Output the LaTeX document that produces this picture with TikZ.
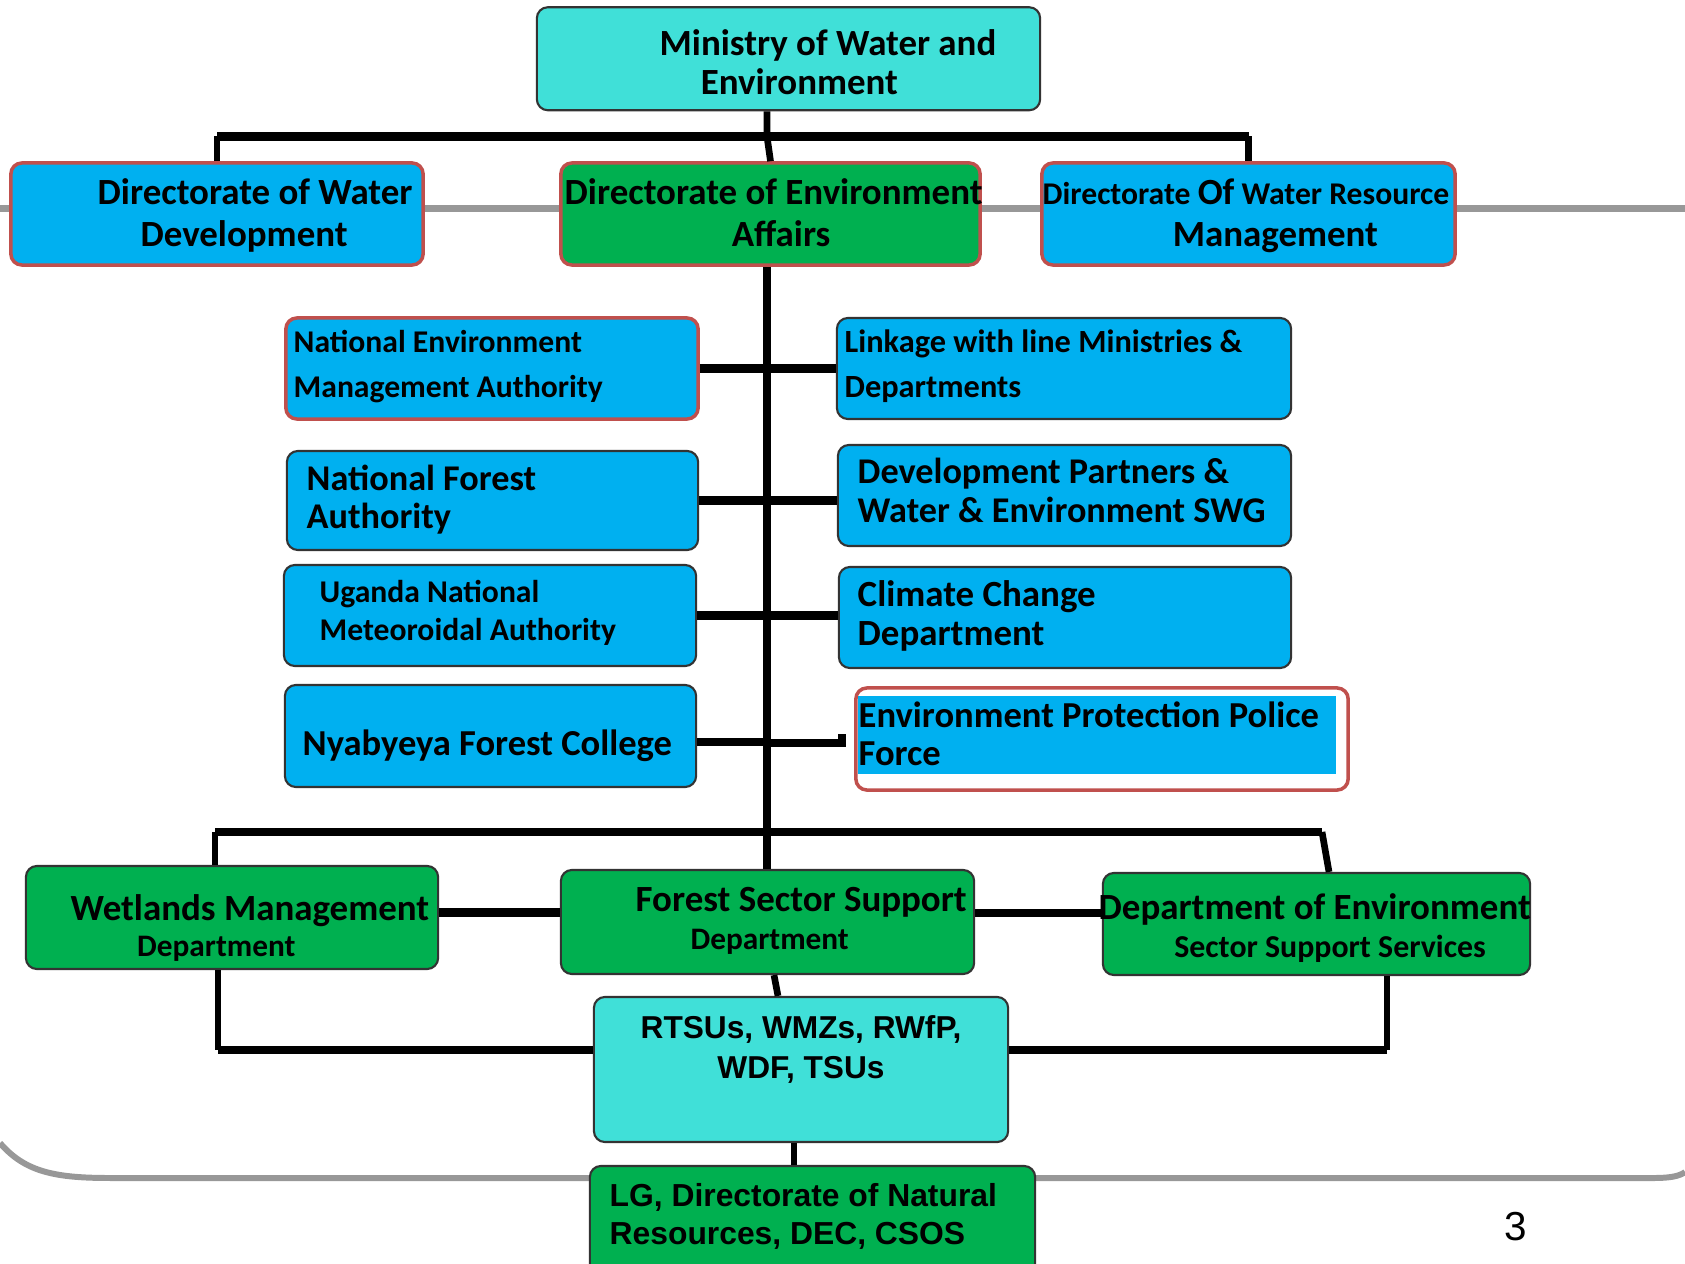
\documentclass[tikz,border=0pt]{standalone}
\usepackage{fontspec}
\setmainfont{Carlito}
\newfontfamily\arialfont{Liberation Sans}
\definecolor{aqua}{HTML}{40E0D8}
\definecolor{skyblue}{HTML}{00B0F0}
\definecolor{leafgreen}{HTML}{00B050}
\definecolor{redline}{HTML}{C0504D}
\definecolor{framegray}{HTML}{989898}
\tikzset{
  box/.style={draw=black!80, line width=0.6pt, rounded corners=1.1mm, inner sep=0pt},
  bluebox/.style={box, fill=skyblue},
  greenbox/.style={box, fill=leafgreen},
  aquabox/.style={box, fill=aqua},
  redrim/.style={draw=redline, line width=1pt},
  txt/.style={inner sep=0pt, align=left, anchor=base west},
  link/.style={line width=2.4pt},
  stem/.style={line width=1.9pt},
  slideline/.style={draw=framegray, line width=2.2pt},
}
\begin{document}
\begin{tikzpicture}[x=0.01cm, y=-0.01cm]
			\useasboundingbox (0,0) rectangle (1685,1264);
			% slide frame lines
			\draw[slideline] (0,208.5) -- (1685,208.5);
			\draw[slideline, line width=1.7pt] (0,1143) .. controls (25,1172) and (55,1178) .. (110,1178) -- (1655,1178) .. controls (1670,1178) and (1680,1176) .. (1685,1172);
			% boxes
			\node[aquabox, minimum width=5.03cm, minimum height=1.03cm] (min) at (788.5,58.75) {};
			\node[bluebox, redrim, minimum width=4.12cm, minimum height=1.02cm] (dwd) at (217,214) {};
			\node[greenbox, redrim, minimum width=4.19cm, minimum height=1.02cm] (dea) at (770.5,214) {};
			\node[bluebox, redrim, minimum width=4.13cm, minimum height=1.02cm] (dwrm) at (1248.5,214) {};
			\node[bluebox, redrim, minimum width=4.12cm, minimum height=1.01cm] (nema) at (492,368.5) {};
			\node[bluebox, minimum width=4.54cm, minimum height=1.01cm] (lmd) at (1064,368.5) {};
			\node[bluebox, minimum width=4.11cm, minimum height=0.99cm] (nfa) at (492.5,500.5) {};
			\node[bluebox, minimum width=4.53cm, minimum height=1.01cm] (dpw) at (1064.5,495.5) {};
			\node[bluebox, minimum width=4.12cm, minimum height=1.01cm] (unma) at (490,615.5) {};
			\node[bluebox, minimum width=4.52cm, minimum height=1.01cm] (ccd) at (1065,617.5) {};
			\node[bluebox, minimum width=4.11cm, minimum height=1.02cm] (nfc) at (490.5,736) {};
			\node[box, redrim, fill=white, minimum width=4.92cm, minimum height=1.02cm] (eppf) at (1102,739) {};
			\fill[skyblue] (858,696) rectangle (1336,774);
			\node[greenbox, minimum width=4.12cm, minimum height=1.03cm] (wet) at (232,917.5) {};
			\node[greenbox, minimum width=4.13cm, minimum height=1.04cm] (fss) at (767.5,922) {};
			\node[greenbox, minimum width=4.27cm, minimum height=1.02cm] (dess) at (1316.5,924) {};
			\node[aquabox, minimum width=4.14cm, minimum height=1.45cm] (rtsu) at (801,1069.5) {};
			\node[greenbox, minimum width=4.45cm, minimum height=1.10cm] (lg) at (812.5,1221) {};
			% texts (anchored at the baseline of the last line)
			\node[txt, font=\bfseries\fontsize{10.5}{11}\selectfont] (min-t) at (659,94.6) {Ministry of Water and\\\hspace*{11.7pt}Environment};
			\node[txt, font=\bfseries\fontsize{10.5}{12.2}\selectfont] (dwd-t) at (97,247) {Directorate of Water\\\hspace*{12.2pt}Development};
			\node[txt, font=\bfseries\fontsize{10.5}{12.2}\selectfont] (dea-t) at (564,247) {Directorate of Environment\\\hspace*{47.5pt}Affairs};
			\node[txt, font=\bfseries\fontsize{10.5}{12.2}\selectfont] (dwrm-t) at (1042,247) {{\fontsize{9}{12.2}\selectfont Directorate {\fontsize{10.5}{12.2}\selectfont Of} Water Resource}\\\hspace*{37pt}Management};
			\node[txt, font=\bfseries\fontsize{9}{12.8}\selectfont] (nema-t) at (293,397.6) {National Environment\\Management Authority};
			\node[txt, font=\bfseries\fontsize{9.2}{12.8}\selectfont] (lmd-t) at (844,397.6) {Linkage with line Ministries \&\\Departments};
			\node[txt, font=\bfseries\fontsize{10.3}{11}\selectfont] (nfa-t) at (306,528.7) {National Forest\\Authority};
			\node[txt, font=\bfseries\fontsize{10.3}{11}\selectfont] (dpw-t) at (857,522) {Development Partners \&\\Water \& Environment SWG};
			\node[txt, font=\bfseries\fontsize{9}{10.7}\selectfont] (unma-t) at (319,640.5) {Uganda National\\Meteoroidal Authority};
			\node[txt, font=\bfseries\fontsize{10.5}{10.9}\selectfont] (ccd-t) at (857,645) {Climate Change\\Department};
			\node[txt, font=\bfseries\fontsize{10.4}{11}\selectfont] (nfc-t) at (302,755.5) {Nyabyeya Forest College};
			\node[txt, font=\bfseries\fontsize{10.4}{10.6}\selectfont] (eppf-t) at (858,765) {Environment Protection Police\\Force};
			\node[txt, font=\bfseries\fontsize{10.5}{10}\selectfont] (wet-t) at (70,956) {Wetlands Management\\{\fontsize{8.9}{10}\selectfont\hspace*{18.9pt}Department}};
			\node[txt, font=\bfseries\fontsize{10.5}{10.8}\selectfont] (fss-t) at (635,949) {Forest Sector Support\\{\fontsize{8.9}{10.8}\selectfont\hspace*{15.6pt}Department}};
			\node[txt, font=\bfseries\fontsize{10.5}{10.7}\selectfont] (dess-t) at (1098,957.5) {Department of Environment\\{\fontsize{9.06}{10.7}\selectfont\hspace*{21.5pt}Sector Support Services}};
			\node[txt, align=center, anchor=base, font=\arialfont\bfseries\fontsize{9}{11.1}\selectfont] (rtsu-t) at (801,1078) {RTSUs, WMZs, RWfP,\\WDF, TSUs};
			\node[txt, font=\arialfont\bfseries\fontsize{9.05}{10.7}\selectfont] (lg-t) at (609,1244.5) {LG, Directorate of Natural\\Resources, DEC, CSOS};
			\node[anchor=base, inner sep=0pt, font=\arialfont\fontsize{11.5}{12}\selectfont] (pgno) at (1516,1240) {3};
			% connectors
			\coordinate (spine) at (767,300);
			\coordinate (topbar) at (767,136.5);
			\coordinate (lowL) at (215,832);
			\coordinate (lowR) at (1322,832);
			\coordinate (cornerL) at (218,1050);
			\coordinate (cornerR) at (1387,1050);
			\coordinate (tick) at (842,743);
			\draw[stem] (min.south -| spine) -- (topbar) -- (dea.north);
			\draw[link] (dwd.north |- topbar) -- (dwrm.north |- topbar);
			\draw[stem] (dwd.north |- topbar) -- (dwd.north);
			\draw[stem] (dwrm.north |- topbar) -- (dwrm.north);
			\draw[link] (dea.south -| spine) -- (fss.north -| spine);
			\draw[link] (nema.east) -- (lmd.west);
			\draw[link] (nfa.east) -- (nfa.east -| dpw.west);
			\draw[link] (unma.east) -- (unma.east -| ccd.west);
			\draw[link] ([yshift=-0.06cm]nfc.east) -- ([yshift=-0.06cm]nfc.east -| spine);
			\draw[link] (spine |- tick) -- (tick) -- ++(0,-9);
			\draw[link] (lowL) -- (lowR);
			\draw[stem] (lowL) -- (lowL |- wet.north);
			\draw[stem] (lowR) -- ([xshift=0.125cm]dess.north);
			\draw[link] ([yshift=0.05cm]wet.east) -- ([yshift=0.05cm]wet.east -| fss.west);
			\draw[link] ([yshift=0.09cm]fss.east) -- ([yshift=0.09cm]fss.east -| dess.west);
			\draw[stem] (cornerL |- wet.south) -- (cornerL);
			\draw[link] (cornerL) -- (cornerL -| rtsu.west);
			\draw[stem] (cornerR |- dess.south) -- (cornerR);
			\draw[link] (cornerR) -- (cornerR -| rtsu.east);
			\draw[stem] ([xshift=0.065cm]fss.south) -- ([xshift=-0.23cm]rtsu.north);
			\draw[stem] ([xshift=-0.07cm]rtsu.south) -- ([xshift=-0.07cm]rtsu.south |- lg.north);
		\end{tikzpicture}
\end{document}
